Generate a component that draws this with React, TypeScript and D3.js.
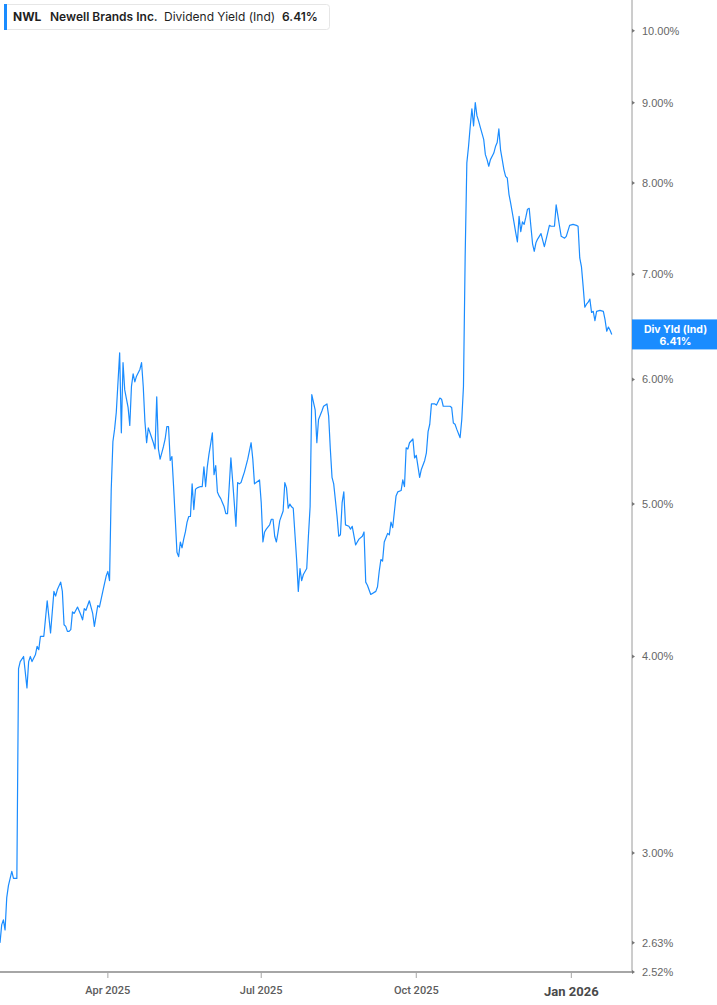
import React, { useEffect } from "react";
import * as d3 from "d3";

const ticker = "NWL";
const company = "Newell Brands Inc.";
const metric = "Dividend Yield (Ind)";
const lastBoxLabel = "Div Yld (Ind)";

const dates = [
  "2025-01-27","2025-01-28","2025-01-29","2025-01-30","2025-01-31","2025-02-01","2025-02-03","2025-02-04","2025-02-06","2025-02-07","2025-02-08","2025-02-10",
  "2025-02-12","2025-02-13","2025-02-14","2025-02-15","2025-02-17","2025-02-18","2025-02-19","2025-02-20","2025-02-22","2025-02-24","2025-02-26","2025-02-28",
  "2025-03-01","2025-03-02","2025-03-04","2025-03-05","2025-03-06","2025-03-07","2025-03-08","2025-03-09","2025-03-10","2025-03-11","2025-03-12","2025-03-14",
  "2025-03-16","2025-03-17","2025-03-18","2025-03-19","2025-03-21","2025-03-23","2025-03-24","2025-03-26","2025-03-27","2025-03-29","2025-03-30","2025-03-31",
  "2025-04-01","2025-04-02","2025-04-03","2025-04-04","2025-04-05","2025-04-06","2025-04-08","2025-04-09","2025-04-10","2025-04-11","2025-04-13","2025-04-14",
  "2025-04-15","2025-04-16","2025-04-17","2025-04-18","2025-04-20","2025-04-21","2025-04-22","2025-04-23","2025-04-24","2025-04-25","2025-04-26","2025-04-27",
  "2025-04-28","2025-04-29","2025-04-30","2025-05-01","2025-05-02","2025-05-03","2025-05-04","2025-05-05","2025-05-06","2025-05-07","2025-05-08","2025-05-09",
  "2025-05-10","2025-05-11","2025-05-12","2025-05-13","2025-05-14","2025-05-15","2025-05-16","2025-05-17","2025-05-18","2025-05-19","2025-05-20","2025-05-21",
  "2025-05-22","2025-05-23","2025-05-24","2025-05-26","2025-05-27","2025-05-28","2025-05-29","2025-05-30","2025-05-31","2025-06-01","2025-06-02","2025-06-03",
  "2025-06-04","2025-06-05","2025-06-06","2025-06-07","2025-06-08","2025-06-09","2025-06-10","2025-06-11","2025-06-12","2025-06-13","2025-06-14","2025-06-15",
  "2025-06-16","2025-06-17","2025-06-18","2025-06-19","2025-06-20","2025-06-21","2025-06-22","2025-06-23","2025-06-25","2025-06-26","2025-06-27","2025-06-28",
  "2025-06-30","2025-07-01","2025-07-02","2025-07-03","2025-07-04","2025-07-06","2025-07-07","2025-07-08","2025-07-09","2025-07-10","2025-07-11","2025-07-12",
  "2025-07-14","2025-07-15","2025-07-16","2025-07-17","2025-07-18","2025-07-19","2025-07-20","2025-07-22","2025-07-23","2025-07-24","2025-07-25","2025-07-26",
  "2025-07-28","2025-07-29","2025-07-30","2025-07-31","2025-08-02","2025-08-03","2025-08-04","2025-08-06","2025-08-07","2025-08-09","2025-08-10","2025-08-11",
  "2025-08-12","2025-08-13","2025-08-14","2025-08-15","2025-08-16","2025-08-17","2025-08-18","2025-08-19","2025-08-20","2025-08-22","2025-08-23","2025-08-24",
  "2025-08-26","2025-08-27","2025-08-28","2025-08-30","2025-08-31","2025-09-01","2025-09-02","2025-09-04","2025-09-07","2025-09-08","2025-09-09","2025-09-10",
  "2025-09-11","2025-09-12","2025-09-13","2025-09-14","2025-09-15","2025-09-16","2025-09-17","2025-09-19","2025-09-20","2025-09-22","2025-09-23","2025-09-24",
  "2025-09-25","2025-09-26","2025-09-27","2025-09-29","2025-09-30","2025-10-01","2025-10-03","2025-10-04","2025-10-06","2025-10-07","2025-10-08","2025-10-09",
  "2025-10-10","2025-10-12","2025-10-13","2025-10-15","2025-10-16","2025-10-17","2025-10-19","2025-10-21","2025-10-22","2025-10-23","2025-10-24","2025-10-25",
  "2025-10-27","2025-10-28","2025-10-29","2025-10-30","2025-10-31","2025-11-01","2025-11-02","2025-11-03","2025-11-04","2025-11-05","2025-11-06","2025-11-07",
  "2025-11-08","2025-11-10","2025-11-11","2025-11-12","2025-11-13","2025-11-14","2025-11-16","2025-11-17","2025-11-18","2025-11-19","2025-11-20","2025-11-21",
  "2025-11-22","2025-11-23","2025-11-24","2025-11-25","2025-11-26","2025-11-27","2025-11-28","2025-11-29","2025-11-30","2025-12-01","2025-12-02","2025-12-03",
  "2025-12-04","2025-12-05","2025-12-06","2025-12-07","2025-12-08","2025-12-09","2025-12-10","2025-12-11","2025-12-12","2025-12-13","2025-12-14","2025-12-16",
  "2025-12-18","2025-12-19","2025-12-20","2025-12-22","2025-12-23","2025-12-24","2025-12-25","2025-12-26","2025-12-27","2025-12-28","2025-12-29","2025-12-31",
  "2026-01-02","2026-01-04","2026-01-05","2026-01-06","2026-01-07","2026-01-08","2026-01-09","2026-01-10","2026-01-11","2026-01-12","2026-01-13","2026-01-14",
  "2026-01-15","2026-01-16","2026-01-18","2026-01-20","2026-01-21","2026-01-22","2026-01-23","2026-01-24","2026-01-25"
];

const yields = [
  2.63,2.70,2.72,2.68,2.81,2.86,2.92,2.89,2.89,3.93,3.97,4.00,
  3.82,3.97,4.00,3.97,4.01,4.06,4.04,4.12,4.12,4.34,4.14,4.40,
  4.37,4.41,4.46,4.40,4.19,4.18,4.15,4.15,4.16,4.27,4.26,4.30,
  4.25,4.22,4.29,4.28,4.34,4.26,4.18,4.31,4.30,4.40,4.45,4.50,
  4.53,4.47,5.11,5.48,5.58,5.72,6.24,5.55,6.15,5.91,5.76,5.61,
  5.94,6.05,5.98,6.03,6.09,6.15,5.94,5.64,5.47,5.59,5.55,5.51,
  5.47,5.42,5.85,5.42,5.34,5.39,5.44,5.50,5.60,5.60,5.33,5.36,
  5.13,4.89,4.66,4.63,4.73,4.69,4.75,4.80,4.87,4.91,4.91,5.15,
  4.96,5.11,5.12,5.13,5.13,5.28,5.13,5.28,5.38,5.46,5.55,5.22,
  5.29,5.09,5.06,5.04,5.01,4.98,4.93,4.93,5.13,5.35,5.18,5.01,
  4.84,5.16,5.15,5.16,5.20,5.24,5.29,5.34,5.47,5.34,5.15,5.16,
  5.18,5.01,4.73,4.80,4.82,4.85,4.89,4.89,4.77,4.73,4.80,4.88,
  4.95,5.16,5.12,4.97,5.00,4.98,4.97,4.61,4.40,4.55,4.47,4.51,
  4.55,4.77,4.98,5.87,5.74,5.47,5.66,5.73,5.77,5.79,5.69,5.42,
  5.20,5.15,5.03,4.91,4.77,4.78,5.01,5.09,4.85,4.84,4.82,4.84,
  4.71,4.73,4.75,4.77,4.80,4.46,4.44,4.38,4.40,4.43,4.53,4.61,
  4.60,4.73,4.76,4.79,4.78,4.87,4.83,5.06,5.09,5.10,5.18,5.13,
  5.43,5.42,5.47,5.50,5.35,5.37,5.20,5.26,5.33,5.39,5.56,5.62,
  5.79,5.79,5.78,5.84,5.83,5.77,5.77,5.77,5.76,5.63,5.62,5.58,
  5.51,5.66,5.94,7.18,8.24,8.44,8.69,8.92,8.70,9.00,8.83,8.76,
  8.68,8.53,8.34,8.28,8.20,8.28,8.36,8.44,8.49,8.66,8.40,8.28,
  8.16,8.08,8.06,7.87,7.77,7.66,7.55,7.44,7.34,7.62,7.45,7.56,
  7.53,7.61,7.70,7.71,7.51,7.32,7.24,7.33,7.37,7.40,7.43,7.29,
  7.44,7.52,7.51,7.51,7.75,7.63,7.51,7.40,7.39,7.38,7.40,7.52,
  7.53,7.52,7.51,7.17,7.08,6.88,6.67,6.70,6.72,6.75,6.62,6.63,
  6.54,6.63,6.64,6.63,6.55,6.44,6.48,6.45,6.41
];

const yTickValues = [10, 9, 8, 7, 6, 5, 4, 3, 2.63, 2.52];
const xTickDates = ["2025-04-01", "2025-07-01", "2025-10-01", "2026-01-01"];
const xTickLabels = ["Apr 2025", "Jul 2025", "Oct 2025", "Jan 2026"];

const BLUE = "#1a8cff";

export default function App() {
  useEffect(() => {
    document.body.style.margin = "0";
  }, []);

  const W = 717;
  const H = 1005;
  const plotRight = 632;
  const plotBottom = 972;

  const x = d3
    .scaleUtc()
    .domain([new Date("2025-01-27"), new Date("2026-02-06")])
    .range([0, plotRight]);
  const y = d3.scaleLog().domain([2.52, 10.46]).range([plotBottom, 0]);

  const data = dates.map((d, i) => ({ date: new Date(d), v: yields[i] }));
  const line = d3
    .line<{ date: Date; v: number }>()
    .x((d) => x(d.date))
    .y((d) => y(d.v));
  const last = data[data.length - 1];
  const lastY = y(last.v);
  const fmt = (v: number) => v.toFixed(2) + "%";

  return (
    <svg
      width={W}
      height={H}
      style={{ position: "absolute", left: 0, top: 0, display: "block", background: "#fff" }}
    >
      <path d={line(data) || ""} fill="none" stroke={BLUE} strokeWidth={1.2} strokeLinejoin="round" />

      {/* bottom axis */}
      <line x1={0} x2={plotRight} y1={plotBottom} y2={plotBottom} stroke="#a6a6a6" strokeWidth={2} />
      {xTickDates.map((d, i) => {
        const xx = x(new Date(d));
        const isYear = i === xTickDates.length - 1;
        return (
          <g key={d}>
            <line x1={xx} x2={xx} y1={plotBottom} y2={plotBottom + 6} stroke="#a6a6a6" strokeWidth={1} />
            <text
              x={xx}
              y={isYear ? 996 : 994}
              textAnchor="middle"
              fontFamily="Roboto, 'Liberation Sans', sans-serif"
              fontSize={isYear ? 13 : 11}
              fontWeight={isYear ? 700 : 500}
              fill={isYear ? "#4a4a4a" : "#5c5c5c"}
            >
              {xTickLabels[i]}
            </text>
          </g>
        );
      })}

      {/* right axis */}
      <line x1={plotRight} x2={plotRight} y1={0} y2={plotBottom} stroke="#9a9a9a" strokeWidth={1} />
      {yTickValues.map((v) => {
        const yy = y(v);
        return (
          <g key={v}>
            <path d={`M${plotRight},${yy - 2}L${plotRight + 3},${yy}L${plotRight},${yy + 2}Z`} fill="#777" />
            <text
              x={plotRight + 10}
              y={yy}
              dy="0.35em"
              fontFamily="'Liberation Sans', Arial, sans-serif"
              fontSize={11}
              fill="#666"
            >
              {fmt(v)}
            </text>
          </g>
        );
      })}

      {/* last value box */}
      <rect x={plotRight} y={lastY - 15} width={W - plotRight} height={30} fill={BLUE} />
      <text
        x={(plotRight + W) / 2 + 1}
        y={lastY - 5.5}
        dy="0.35em"
        textAnchor="middle"
        fontFamily="Inter, 'Liberation Sans', sans-serif"
        fontSize={10.5}
        fontWeight={700}
        fill="#fff"
      >
        {lastBoxLabel}
      </text>
      <text
        x={(plotRight + W) / 2 + 1}
        y={lastY + 6.5}
        dy="0.35em"
        textAnchor="middle"
        fontFamily="Inter, 'Liberation Sans', sans-serif"
        fontSize={10.5}
        fontWeight={700}
        fill="#fff"
      >
        {fmt(last.v)}
      </text>

      {/* legend */}
      <rect x={4.5} y={4.5} width={325} height={25} rx={3} fill="#fff" stroke="#e6e6e6" />
      <rect x={4} y={4} width={3} height={26} fill={BLUE} />
      <g fontFamily="Inter, 'Liberation Sans', sans-serif" fontSize={12} fill="#1f1f1f">
        <text x={13} y={17} dy="0.35em" fontWeight={700}>{ticker}</text>
        <text x={50} y={17} dy="0.35em" fontWeight={600}>{company}</text>
        <text x={164} y={17} dy="0.35em" fontWeight={400}>{metric}</text>
        <text x={282} y={17} dy="0.35em" fontWeight={600}>{fmt(last.v)}</text>
      </g>
    </svg>
  );
}
